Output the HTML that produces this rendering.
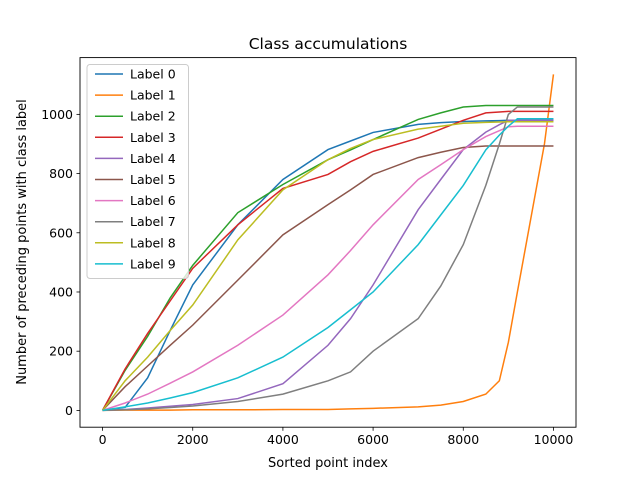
<!DOCTYPE html>
<html><head><meta charset="utf-8"><style>
body{margin:0;background:#fff}
svg{font-family:"DejaVu Sans","Liberation Sans",sans-serif}
</style></head><body>
<svg id="chart" width="640" height="480" viewBox="0 0 640 480">
<rect width="640" height="480" fill="#fff"/>
<text x="328" y="49" font-size="15.5" text-anchor="middle">Class accumulations</text>
<g id="plot"></g>
<rect x="80" y="57.6" width="496" height="369.6" fill="none" stroke="#000" stroke-width="0.9"/>
<text x="328" y="467" font-size="13" text-anchor="middle">Sorted point index</text>
<text transform="translate(26,242) rotate(-90)" font-size="13" text-anchor="middle">Number of preceding points with class label</text>
<g id="legend"></g>
</svg>
<script>
const xTicks=[0,2000,4000,6000,8000,10000];
const yTicks=[0,200,400,600,800,1000];
const xs=[0,500,1000,1500,2000,3000,4000,5000,5500,6000,7000,7500,8000,8500,8800,9000,9200,9500,9800,10000];
const label0=[0,10,110,270,424,627,780,881,910,939,966,972,976,978,979,980,980,980,980,980];
const label1=[0,1,1,1,2,2,3,3,5,7,12,18,30,55,100,230,400,650,900,1135];
const label2=[0,135,250,380,490,668,763,847,880,915,983,1005,1025,1030,1030,1030,1030,1030,1030,1030];
const label3=[0,140,260,370,480,627,750,797,840,875,920,950,980,1005,1008,1010,1010,1010,1010,1010];
const label4=[0,3,8,14,20,40,90,220,310,424,678,780,881,940,965,980,980,980,980,980];
const label5=[0,80,150,220,288,440,593,695,745,797,854,872,888,893,893,893,893,893,893,893];
const label6=[0,25,55,92,130,220,322,458,540,627,780,830,881,925,945,958,960,960,960,960];
const label7=[0,2,5,10,15,30,55,100,130,200,310,420,560,760,900,1000,1025,1025,1025,1025];
const label8=[0,100,180,270,356,576,745,847,885,915,950,960,970,973,974,975,975,975,975,975];
const label9=[0,12,25,42,60,110,180,280,340,400,560,660,760,880,930,960,985,985,985,985];
const series=[label0,label1,label2,label3,label4,label5,label6,label7,label8,label9];
const colors=["#1f77b4","#ff7f0e","#2ca02c","#d62728","#9467bd","#8c564b","#e377c2","#7f7f7f","#bcbd22","#17becf"];
const NS="http://www.w3.org/2000/svg";
const X0=80,X1=576,Y0=427.2,Y1=57.6,xmin=-500,xmax=10500,ymin=-56.75,ymax=1191.75;
const sx=v=>X0+(v-xmin)/(xmax-xmin)*(X1-X0);
const sy=v=>Y0-(v-ymin)/(ymax-ymin)*(Y0-Y1);
const plot=document.getElementById('plot');
function mk(t,a){const e=document.createElementNS(NS,t);for(const k in a)e.setAttribute(k,a[k]);return e;}
xTicks.forEach(t=>{
  const l=mk('line',{x1:sx(t),x2:sx(t),y1:Y0,y2:Y0+3.5,stroke:'#000','stroke-width':0.8});
  
  
  plot.appendChild(l);
  const tx=mk('text',{x:sx(t),y:Y0+17,'font-size':12.5,'text-anchor':'middle'});
  tx.textContent=t;
  
  
  plot.appendChild(tx);
});
yTicks.forEach(t=>{
  const l=mk('line',{x1:X0-3.5,x2:X0,y1:sy(t),y2:sy(t),stroke:'#000','stroke-width':0.8});
  
  
  plot.appendChild(l);
  const tx=mk('text',{x:X0-7,y:sy(t)+4.5,'font-size':12.5,'text-anchor':'end'});
  tx.textContent=t;
  
  
  plot.appendChild(tx);
});
series.forEach((s,i)=>{
  const p=mk('polyline',{points:s.map((v,j)=>sx(xs[j])+','+sy(v)).join(' '),fill:'none',stroke:colors[i],'stroke-width':1.5});
  
  
  plot.appendChild(p);
});
const lg=document.getElementById('legend');
const box=mk('rect',{x:87,y:64.5,width:101.5,height:214,rx:3,fill:'#fff','fill-opacity':0.8,stroke:'#ccc'});


lg.appendChild(box);
series.forEach((s,i)=>{
  const y=74+i*21.1;
  const g=mk('g',{});
  
  
  g.appendChild(mk('line',{x1:95,x2:123,y1:y,y2:y,stroke:colors[i],'stroke-width':1.5}));
  const t=mk('text',{x:130,y:y+4.5,'font-size':12.5});
  t.textContent='Label '+i;
  g.appendChild(t);
  lg.appendChild(g);
});
</script>
</body></html>
